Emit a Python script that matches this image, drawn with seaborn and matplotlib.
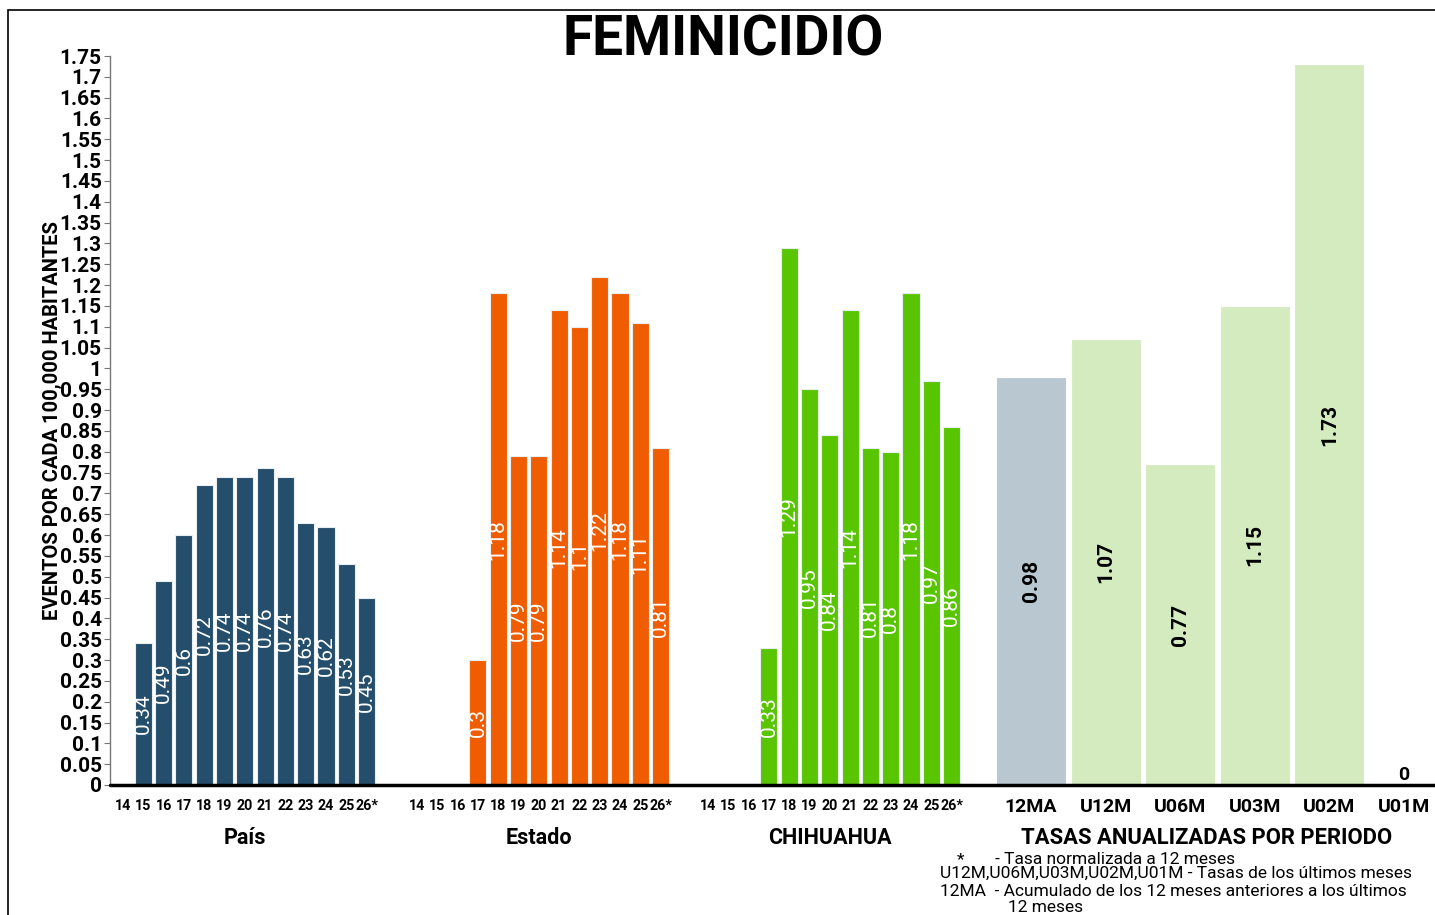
import pandas as pd
import numpy as np
import matplotlib
matplotlib.use("Agg")
import matplotlib.pyplot as plt
import seaborn as sns
from matplotlib.patches import Rectangle
from matplotlib.lines import Line2D

# ------------------------------
# DATA
# ------------------------------
years = ["14", "15", "16", "17", "18", "19", "20", "21", "22", "23", "24", "25", "26*"]

pais_years = ["15", "16", "17", "18", "19", "20", "21", "22", "23", "24", "25", "26*"]
pais_vals = [0.34, 0.49, 0.6, 0.72, 0.74, 0.74, 0.76, 0.74, 0.63, 0.62, 0.53, 0.45]

estado_years = ["17", "18", "19", "20", "21", "22", "23", "24", "25", "26*"]
estado_vals = [0.3, 1.18, 0.79, 0.79, 1.14, 1.1, 1.22, 1.18, 1.11, 0.81]

chih_years = ["17", "18", "19", "20", "21", "22", "23", "24", "25", "26*"]
chih_vals = [0.33, 1.29, 0.95, 0.84, 1.14, 0.81, 0.8, 1.18, 0.97, 0.86]

periodos = ["12MA", "U12M", "U06M", "U03M", "U02M", "U01M"]
tasas_vals = [0.98, 1.07, 0.77, 1.15, 1.73, 0]

group_names = ["País", "Estado", "CHIHUAHUA"]
tasas_name = "TASAS ANUALIZADAS POR PERIODO"

notes = [
    "- Tasa normalizada a 12 meses",
    "U12M,U06M,U03M,U02M,U01M - Tasas de los últimos meses",
    "12MA  - Acumulado de los 12 meses anteriores a los últimos",
    "12 meses",
]

C_PAIS = "#244e6b"
C_ESTADO = "#f05c00"
C_CHIH = "#58c500"
C_12MA = "#b9c8d0"
C_TASA = "#d4ebbf"

# ------------------------------
# FIGURE
# ------------------------------
sns.set_style("white")
plt.rcParams["font.family"] = ["Roboto", "DejaVu Sans"]
plt.rcParams["text.color"] = "black"
plt.rcParams["axes.labelcolor"] = "black"
plt.rcParams["xtick.color"] = "black"
plt.rcParams["ytick.color"] = "black"

W, H = 1435, 915
fig = plt.figure(figsize=(W / 100, H / 100), dpi=100)

y0_px, y1_px = 785, 56
bottom = (H - y0_px) / H
height = (y0_px - y1_px) / H


def make_ax(x0, x1):
    return fig.add_axes([x0 / W, bottom, (x1 - x0) / W, height])


# frame around the whole picture
fig.patches.append(Rectangle((8 / W, -0.05), 1.2, (H - 10) / H + 0.05,
                             transform=fig.transFigure, fill=False,
                             edgecolor="black", linewidth=1.2))

small_axes = [(110, 392, 13, C_PAIS, pais_years, pais_vals),
              (392, 684, 25, C_ESTADO, estado_years, estado_vals),
              (684, 985, 24, C_CHIH, chih_years, chih_vals)]
slot = 20.3

axes = []
for i, (x0, x1, off, color, yrs, vals) in enumerate(small_axes):
    ax = make_ax(x0, x1)
    df = pd.DataFrame({"year": yrs, "value": vals})
    sns.barplot(data=df, x="year", y="value", order=years, color=color,
                saturation=1, width=0.84, edgecolor="#e8eef2", linewidth=0.8,
                ax=ax)
    lo, hi = -off / slot, (x1 - x0 - off) / slot
    ax.set_xlim(lo, hi)
    ax.set_ylim(0, 1.75)
    ax.bar_label(ax.containers[0], labels=[f"{v:g}" for v in vals],
                 label_type="center", rotation=90, color="white",
                 fontsize=15)
    ax.set_xlabel(group_names[i], fontsize=15.5, fontweight="bold")
    # centre the group name under the middle year
    ax.xaxis.set_label_coords((6 - lo) / (hi - lo), -0.058)
    ax.set_ylabel("")
    ax.tick_params(axis="x", length=0, pad=10, labelsize=10.3)
    for t in ax.get_xticklabels():
        t.set_fontweight("bold")
    axes.append(ax)

# tasas
ax4 = make_ax(985, 1435)
df_t = pd.DataFrame({"periodo": periodos, "value": tasas_vals})
pal = {p: (C_12MA if p == "12MA" else C_TASA) for p in periodos}
sns.barplot(data=df_t, x="periodo", y="value", order=periodos, hue="periodo",
            palette=pal, saturation=1, legend=False, width=0.94,
            edgecolor="white", linewidth=0.8, ax=ax4)
ax4.set_xlim(-46 / 74.6, 404 / 74.6)
ax4.set_ylim(0, 1.75)
for k, cont in enumerate(ax4.containers):
    v = tasas_vals[k]
    if v > 0:
        ax4.bar_label(cont, labels=[f"{v:g}"], label_type="center", rotation=90,
                      color="black", fontsize=15, fontweight="semibold")
    else:
        ax4.bar_label(cont, labels=[f"{v:g}"], label_type="edge", padding=1,
                      color="black", fontsize=14, fontweight="bold")
ax4.set_xlabel(tasas_name, fontsize=15.8, fontweight="bold")
ax4.xaxis.set_label_coords((1207 - 985) / 450, -0.058)
ax4.set_ylabel("")
ax4.tick_params(axis="x", length=0, pad=9, labelsize=14)
for t in ax4.get_xticklabels():
    t.set_fontweight("bold")
axes.append(ax4)

# spines / ticks
for j, ax in enumerate(axes):
    for s in ["top", "right", "bottom"]:
        ax.spines[s].set_visible(False)
    if j == 0:
        ax.spines["left"].set_color("#777777")
        ax.spines["left"].set_linewidth(1)
        ticks = np.round(np.arange(0, 1.76, 0.05), 2)
        ax.set_yticks(ticks)
        ax.set_yticklabels([f"{v:g}" for v in ticks])
        ax.tick_params(axis="y", left=True, length=4, width=0.8, color="#777777",
                       labelsize=15, pad=2)
        for t in ax.get_yticklabels():
            t.set_fontweight("bold")
        ax.set_ylabel("EVENTOS POR CADA 100,000 HABITANTES", fontsize=14.5,
                      fontweight="bold", labelpad=-2)
    else:
        ax.spines["left"].set_visible(False)
        ax.set_yticks([])

# continuous base line
fig.lines.append(Line2D([110 / W, 1.0], [bottom, bottom], transform=fig.transFigure,
                        color="black", linewidth=2.5))

fig.text(723 / W, 1 - 40 / H, "FEMINICIDIO", ha="center", va="center",
         fontsize=39.5, fontweight="bold")

# notes
fs = 12.5
fig.text(957 / W, 1 - 860 / H, "*", ha="left", va="center", fontsize=fs)
fig.text(995 / W, 1 - 860 / H, notes[0], ha="left", va="center", fontsize=fs)
fig.text(940 / W, 1 - 873 / H, notes[1], ha="left", va="center", fontsize=fs)
fig.text(940 / W, 1 - 891 / H, notes[2], ha="left", va="center", fontsize=fs)
fig.text(1008 / W, 1 - 908 / H, notes[3], ha="left", va="center", fontsize=fs)

fig.savefig("out.png", dpi=100)
